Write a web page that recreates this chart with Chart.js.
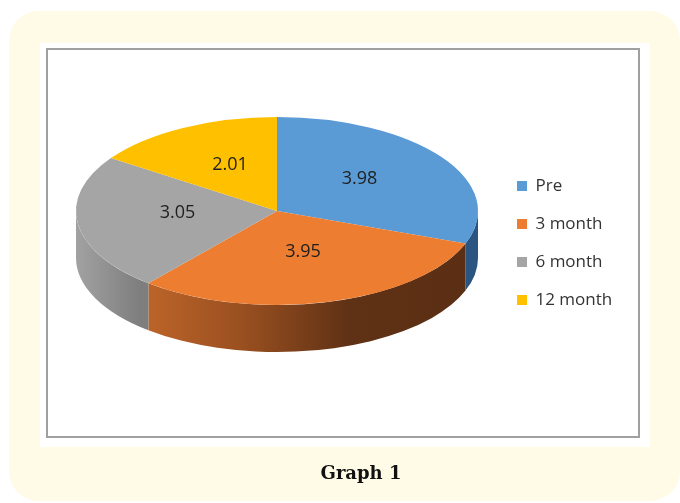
<!DOCTYPE html>
<html><head><meta charset="utf-8">
<script src="https://cdn.jsdelivr.net/npm/chart.js@4.4.0/dist/chart.umd.min.js"></script>
<style>html,body{margin:0;padding:0;background:#fff;}canvas{display:block}</style>
</head><body>
<canvas id="c" width="680" height="503"></canvas>
<script>
// ---- data ----
const categories = ['Pre', '3 month', '6 month', '12 month'];
const values = [3.98, 3.95, 3.05, 2.01];
const valueLabels = ['3.98', '3.95', '3.05', '2.01'];
const caption = 'Graph 1';

// ---- styles ----
const sliceColors = ['#5b9bd5', '#ed7d31', '#a5a5a5', '#ffc000'];
const sideStops = [
  [[0, '#2f5f8f'], [1, '#2a5580']],
  [[0, '#c86b2c'], [0.15, '#c0662a'], [0.41, '#9a5020'], [0.68, '#5f3115'], [1, '#5b2f14']],
  [[0, '#a2a2a2'], [0.16, '#7e7e7e'], [1, '#7a7a7a']],
  [[0, '#b38600'], [1, '#a07800']]
];
const CX = 277, CY = 211, RX = 201, RY = 94, DEPTH = 47;
const legendFont = {family: 'Open Sans', size: 17};

// measure legend text so the legend box lands at x=518
const mctx = document.createElement('canvas').getContext('2d');
mctx.font = legendFont.size + 'px "' + legendFont.family + '"';
const maxTextW = Math.max(...categories.map(t => mctx.measureText(t).width));
const LPAD = 21, BOXW = 10;
const legendW = LPAD + BOXW + legendFont.size / 2 + maxTextW + 10;
const padRight = 680 - (517 - LPAD) - legendW;

const pie3d = {
  id: 'pie3d',
  beforeDraw(chart) {
    const ctx = chart.ctx;
    ctx.save();
    ctx.fillStyle = '#ffffff';
    ctx.fillRect(0, 0, 680, 503);
    ctx.fillStyle = '#fffbe6';
    ctx.beginPath();
    ctx.roundRect(9, 11, 671, 490, 30);
    ctx.fill();
    ctx.fillStyle = '#ffffff';
    ctx.fillRect(40, 43, 610, 404);
    ctx.strokeStyle = '#a0a0a0';
    ctx.lineWidth = 2;
    ctx.strokeRect(47, 49, 592, 388);
    ctx.fillStyle = '#111111';
    ctx.font = 'bold 18px "DejaVu Serif"';
    ctx.textAlign = 'center';
    ctx.textBaseline = 'alphabetic';
    ctx.fillText(caption, 361, 479);
    ctx.restore();
  },
  beforeDatasetsDraw(chart) {
    const ctx = chart.ctx;
    const meta = chart.getDatasetMeta(0);
    ctx.save();
    meta.data.forEach((el, i) => {
      const a = Math.max(el.startAngle, 0);
      const b = Math.min(el.endAngle, Math.PI);
      if (b <= a) return;
      const g = ctx.createLinearGradient(CX - RX, 0, CX + RX, 0);
      sideStops[i].forEach(s => g.addColorStop(s[0], s[1]));
      ctx.fillStyle = g;
      ctx.beginPath();
      ctx.ellipse(CX, CY, RX, RY, 0, a, b, false);
      ctx.ellipse(CX, CY + DEPTH, RX, RY, 0, b, a, true);
      ctx.closePath();
      ctx.fill();
    });
    ctx.restore();
    const el0 = meta.data[0];
    const R = el0.outerRadius;
    ctx.save();
    ctx.translate(CX, CY);
    ctx.scale(RX / R, RY / R);
    ctx.translate(-el0.x, -el0.y);
  },
  afterDatasetsDraw(chart) {
    const ctx = chart.ctx;
    ctx.restore();
    const meta = chart.getDatasetMeta(0);
    ctx.save();
    ctx.fillStyle = '#1f1f1f';
    ctx.font = '18px "Open Sans"';
    ctx.textAlign = 'center';
    ctx.textBaseline = 'middle';
    meta.data.forEach((el, i) => {
      const m = (el.startAngle + el.endAngle) / 2;
      const f = 0.5;
      ctx.fillText(valueLabels[i], CX + Math.cos(m) * RX * f, CY - 5 + Math.sin(m) * RY * f);
    });
    ctx.restore();
  }
};

new Chart(document.getElementById('c'), {
  type: 'pie',
  data: {
    labels: categories,
    datasets: [{
      data: values,
      backgroundColor: sliceColors,
      borderWidth: 0,
      clip: false
    }]
  },
  options: {
    responsive: false,
    devicePixelRatio: 1,
    animation: false,
    layout: {padding: {top: 0, bottom: 17, left: 0, right: padRight}},
    plugins: {
      tooltip: {enabled: false},
      legend: {
        position: 'right',
        labels: {
          boxWidth: BOXW, boxHeight: BOXW, padding: LPAD,
          font: legendFont, color: '#333333'
        }
      }
    }
  },
  plugins: [pie3d]
});
</script>
</body></html>
